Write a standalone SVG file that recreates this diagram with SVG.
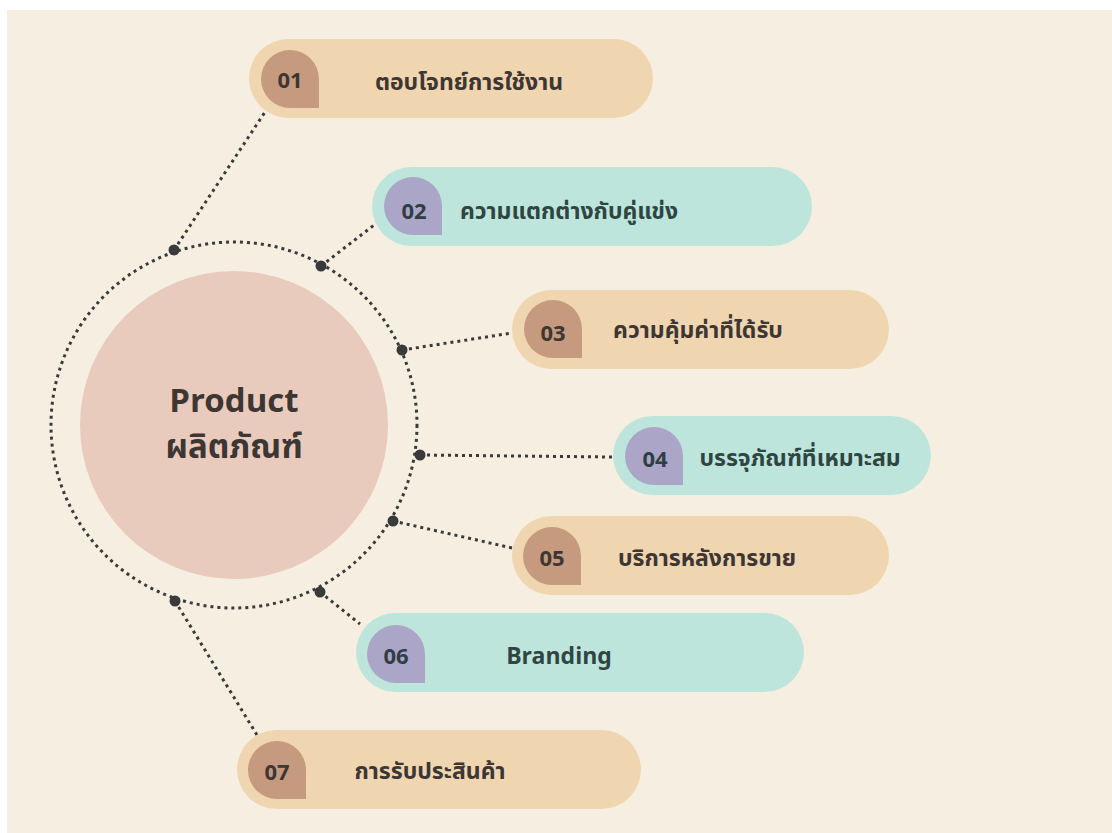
<svg xmlns="http://www.w3.org/2000/svg" width="1112" height="833" viewBox="0 0 1112 833">
<style>
.pillB{fill:#EFD5B0}
.pillT{fill:#BDE5DC}
.badgeB{fill:#C59A7E}
.badgeP{fill:#ABA6C8}
.num{font-family:"Noto Sans","Liberation Sans",sans-serif;font-weight:700;font-size:22px;fill:#3D3633;text-anchor:middle}
.lbl{font-family:"Noto Sans Thai","Noto Sans","Liberation Sans",sans-serif;font-weight:700;font-size:23px;fill:#3D3633;text-anchor:middle}
.lblT{fill:#2F4542}
.numT{fill:#2F3D45}
.dot{fill:#3A3A3A}
.conn{fill:none;stroke:#3A3A3A;stroke-width:3;stroke-dasharray:3 4}
.center{font-family:"Noto Sans Thai","Noto Sans","Liberation Sans",sans-serif;font-weight:700;font-size:33px;fill:#3D3633;text-anchor:middle}
</style>
<rect x="0" y="0" width="1112" height="833" fill="#FFFFFF"/>
<rect x="7" y="10" width="1105" height="823" fill="#F6EFE1"/>

<g id="connectors">
<circle class="conn" cx="234" cy="425" r="183"/>
<line class="conn" x1="174" y1="250" x2="265" y2="112"/>
<line class="conn" x1="321" y1="266" x2="378" y2="222"/>
<line class="conn" x1="402" y1="350" x2="512" y2="333"/>
<line class="conn" x1="420" y1="455" x2="612" y2="457"/>
<line class="conn" x1="393" y1="521" x2="512" y2="548"/>
<line class="conn" x1="320" y1="592" x2="360" y2="624"/>
<line class="conn" x1="175" y1="601" x2="257" y2="735"/>
<circle class="dot" cx="174" cy="250" r="5.5"/>
<circle class="dot" cx="321" cy="266" r="5.5"/>
<circle class="dot" cx="402" cy="350" r="5.5"/>
<circle class="dot" cx="420" cy="455" r="5.5"/>
<circle class="dot" cx="393" cy="521" r="5.5"/>
<circle class="dot" cx="320" cy="592" r="5.5"/>
<circle class="dot" cx="175" cy="601" r="5.5"/>
</g>

<g id="center">
<circle cx="234" cy="425" r="154" fill="#E8CBBD"/>
<text class="center" x="234" y="412">Product</text>
<text class="center" x="234" y="458">ผลิตภัณฑ์</text>
</g>

<g id="item01">
<rect class="pillB" x="249" y="39" width="404" height="79" rx="39.5"/>
<path class="badgeB" d="M261,79 A29,29 0 0 1 290,50 A29,29 0 0 1 319,79 V108 H290 A29,29 0 0 1 261,79 Z"/>
<text class="num" x="290" y="88">01</text>
<text class="lbl" x="469" y="90">ตอบโจทย์การใช้งาน</text>
</g>

<g id="item02">
<rect class="pillT" x="372" y="167" width="440" height="79" rx="39.5"/>
<path class="badgeP" d="M384,206 A29,29 0 0 1 413,177 A29,29 0 0 1 442,206 V235 H413 A29,29 0 0 1 384,206 Z"/>
<text class="num numT" x="414" y="219">02</text>
<text class="lbl lblT" x="569" y="219">ความแตกต่างกับคู่แข่ง</text>
</g>

<g id="item03">
<rect class="pillB" x="512" y="290" width="377" height="79" rx="39.5"/>
<path class="badgeB" d="M524,329 A29,29 0 0 1 553,300 A29,29 0 0 1 582,329 V358 H553 A29,29 0 0 1 524,329 Z"/>
<text class="num" x="553" y="341">03</text>
<text class="lbl" x="698" y="338">ความคุ้มค่าที่ได้รับ</text>
</g>

<g id="item04">
<rect class="pillT" x="613" y="416" width="318" height="79" rx="39.5"/>
<path class="badgeP" d="M625,456 A29,29 0 0 1 654,427 A29,29 0 0 1 683,456 V485 H654 A29,29 0 0 1 625,456 Z"/>
<text class="num numT" x="655" y="467">04</text>
<text class="lbl lblT" x="800" y="466">บรรจุภัณฑ์ที่เหมาะสม</text>
</g>

<g id="item05">
<rect class="pillB" x="512" y="516" width="377" height="79" rx="39.5"/>
<path class="badgeB" d="M523,556 A29,29 0 0 1 552,527 A29,29 0 0 1 581,556 V585 H552 A29,29 0 0 1 523,556 Z"/>
<text class="num" x="552" y="566">05</text>
<text class="lbl" x="707" y="566">บริการหลังการขาย</text>
</g>

<g id="item06">
<rect class="pillT" x="356" y="613" width="448" height="79" rx="39.5"/>
<path class="badgeP" d="M367,654 A29,29 0 0 1 396,625 A29,29 0 0 1 425,654 V683 H396 A29,29 0 0 1 367,654 Z"/>
<text class="num numT" x="396" y="664">06</text>
<text class="lbl lblT" x="559" y="664">Branding</text>
</g>

<g id="item07">
<rect class="pillB" x="237" y="730" width="404" height="79" rx="39.5"/>
<path class="badgeB" d="M248,770 A29,29 0 0 1 277,741 A29,29 0 0 1 306,770 V799 H277 A29,29 0 0 1 248,770 Z"/>
<text class="num" x="277" y="780">07</text>
<text class="lbl" x="430" y="779">การรับประสินค้า</text>
</g>
</svg>
